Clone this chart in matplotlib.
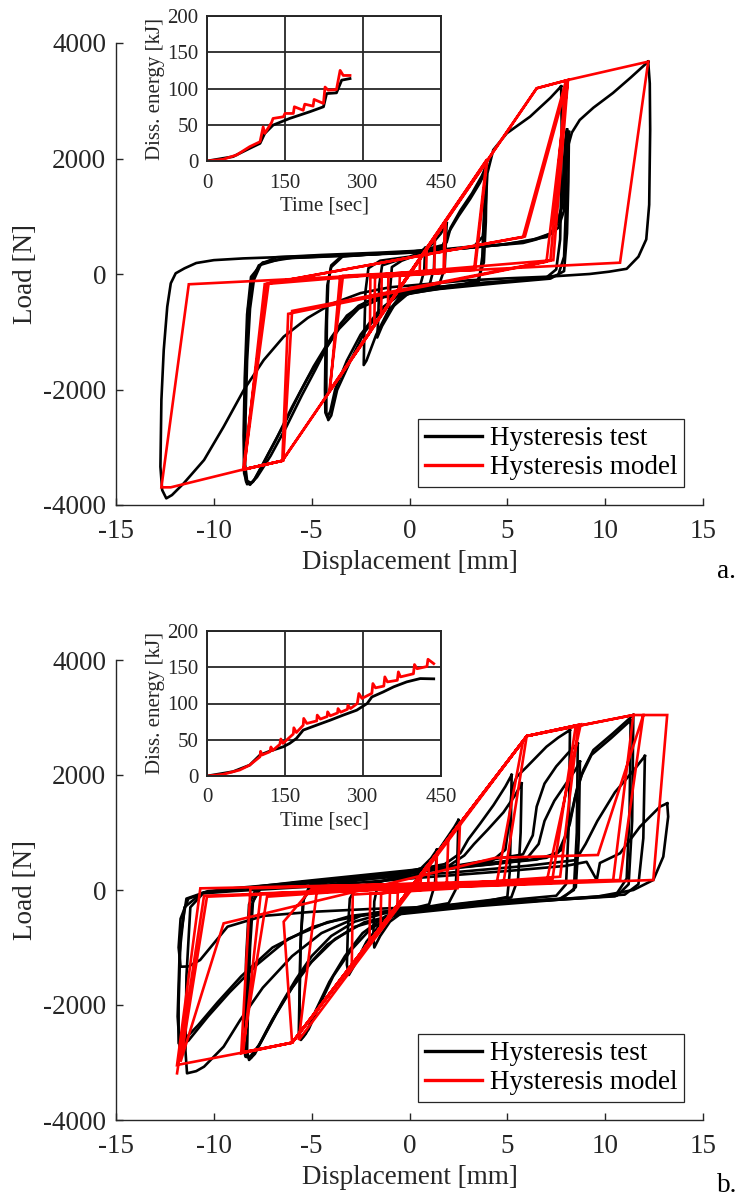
import matplotlib
matplotlib.use("Agg")
import matplotlib.pyplot as plt

plt.rcParams['font.family'] = ['Liberation Serif', 'DejaVu Serif']

# -------------------------
# DATA
# -------------------------

# inset a: dissipated energy vs time
a_time_test = [0, 50, 82, 102, 111, 127, 159, 198, 224, 230, 249, 259, 275]
a_energy_test = [0, 6, 17.4, 24.3, 38, 49.5, 58.7, 68, 74.8, 93, 94, 111.5, 113.7]
a_time_model = [0, 31, 57, 82, 102, 108, 111, 124, 127, 147, 150, 166, 168, 185, 188,
                204, 206, 224, 227, 233, 249, 256, 262, 275]
a_energy_model = [0, 2.3, 8.3, 19.7, 26.6, 47, 38, 52.8, 58.7, 61, 65.6, 65.6, 74.8, 70, 78.4,
                  75.7, 84.9, 79.4, 102, 97.7, 98.6, 125, 118, 118]

# inset b
b_time_test = [0, 50, 82, 102, 121, 147, 159, 172, 185, 211, 237, 262, 288, 308, 317, 339,
               359, 384, 410, 436]
b_energy_test = [0, 6, 15, 29, 34.4, 40.4, 45, 51.8, 63.3, 70.2, 77, 84, 90.8, 100, 109, 116,
                 123, 129.8, 134.4, 134]
b_time_model = [0, 31, 63, 82, 102, 103, 106, 121, 123, 126, 140, 142, 146, 153, 166, 167, 172,
                185, 186, 192, 211, 212, 218, 231, 232, 237, 251, 252, 257, 270, 271, 276,
                289, 292, 298, 317, 319, 324, 340, 342, 347, 366, 368, 372, 397, 399, 404,
                423, 425, 436]
b_energy_model = [0, 2.3, 8.3, 15, 26.6, 34, 29, 33.5, 40, 35, 43.6, 51, 45, 49.5, 58, 66.5, 60,
                  70, 79.4, 72.5, 76, 84, 78.5, 82, 88.5, 83, 87, 93, 88, 92, 97.7, 93,
                  100, 113.8, 107, 114, 127.5, 121.6, 124, 136.7, 129.8, 132, 143.6, 136.7, 141,
                  153.7, 148, 151, 161, 155]

# hysteresis model a (one path, displacement mm / load N)
a_model = [
    (0, 0),
    (0.54, 265), (0.52, 40), (-0.49, -30), (-0.52, -250),
    (0.88, 430), (0.85, 40), (-1.08, -40), (-1.1, -540),
    (1.3, 640), (1.26, 30), (-1.42, -45), (-1.45, -710),
    (1.8, 880), (1.74, 20), (-1.76, -50), (-1.8, -880),
    (1.85, 900), (1.78, 20), (-2.0, -60), (-2.02, -990),
    (3.94, 1974), (3.3, 70), (-3.55, -46), (-4.06, -2010),
    (3.98, 1990), (3.35, 80), (-3.4, -30), (-4.1, -2030),
    (6.5, 3216), (8.1, 3360), (7.0, 213), (-6.2, -690), (-6.5, -3234), (-8.47, -3383),
    (-7.2, -161), (5.8, 640), (8.0, 3350), (7.2, 230), (-6.0, -640), (-6.45, -3230),
    (-8.5, -3390), (-7.3, -170), (5.9, 650), (8.1, 3365), (7.35, 240), (-7.4, -175),
    (-8.45, -3380), (-6.5, -3234), (6.5, 3216), (8.1, 3360), (12.2, 3677), (10.76, 196),
    (-11.28, -178), (-12.68, -3694), (-12.2, -3694), (-8.47, -3383), (-6.5, -3234),
    (-2.0, -1000),
]

# hysteresis test a (closed loops)
a_test_12 = [(12.2, 3677), (11.3, 3400), (10.4, 3135), (9.4, 2880), (8.7, 2667), (8.3, 2450),
             (8.05, 2150), (7.9, 1700), (7.8, 1200), (7.6, 900), (7.2, 700), (6.2, 580),
             (4.5, 500), (2.0, 420), (0.0, 370), (-3.0, 330), (-6.0, 300), (-8.5, 270),
             (-10.0, 240), (-10.9, 190), (-11.5, 98), (-11.95, 12), (-12.2, -161),
             (-12.38, -566), (-12.56, -1316), (-12.68, -2182), (-12.73, -3337), (-12.64, -3741),
             (-12.43, -3885), (-12.14, -3828), (-11.54, -3625), (-10.5, -3221), (-9.5, -2645),
             (-8.47, -2009), (-7.45, -1490), (-6.43, -1086), (-5.2, -760), (-4.0, -520),
             (-2.5, -330), (-1.0, -230), (1.0, -170), (3.0, -110), (5.0, -75), (7.1, -46),
             (9.2, 0), (10.2, 40), (11.1, 90), (11.7, 300), (12.1, 600), (12.25, 1200),
             (12.3, 2500), (12.28, 3300), (12.2, 3677)]
a_test_8a = [(7.75, 3250), (7.2, 3050), (6.16, 2724), (4.97, 2436), (4.28, 2148), (3.98, 1744),
             (3.88, 1100), (3.75, 650), (3.3, 480), (1.5, 420), (-1.5, 370), (-4.5, 330),
             (-6.8, 290), (-7.6, 170), (-7.95, -100), (-8.15, -600), (-8.3, -1500),
             (-8.38, -2500), (-8.4, -3300), (-8.3, -3580), (-8.1, -3620), (-7.8, -3520),
             (-7.1, -3150), (-6.3, -2650), (-5.5, -2100), (-4.8, -1650), (-4.2, -1250),
             (-3.5, -850), (-2.6, -550), (-1.5, -380), (0.5, -260), (3.0, -170), (5.5, -110),
             (7.0, -60), (7.5, 80), (7.7, 600), (7.75, 1500), (7.78, 2500), (7.75, 3250)]
a_test_8b = [(8.05, 2500), (7.95, 2300), (7.88, 1800), (7.8, 1165), (7.5, 850), (7.3, 710),
             (6.5, 600), (5.8, 537), (3.6, 473), (0.7, 380), (-3.0, 320), (-6.5, 270),
             (-7.7, 150), (-8.05, -100), (-8.25, -600), (-8.35, -1500), (-8.42, -2500),
             (-8.45, -3300), (-8.35, -3600), (-8.15, -3650), (-7.9, -3550), (-7.2, -3100),
             (-6.4, -2600), (-5.6, -2050), (-4.9, -1600), (-4.0, -1100), (-3.2, -720),
             (-2.2, -480), (-1.0, -340), (1.5, -230), (4.0, -150), (6.5, -90), (7.6, -20),
             (7.9, 300), (8.0, 1200), (8.05, 2500)]
a_test_8c = [(8.15, 2460), (8.05, 2250), (7.98, 1750), (7.9, 1100), (7.6, 800), (7.0, 640),
             (5.0, 520), (2.0, 420), (-2.0, 340), (-6.0, 280), (-7.5, 200), (-8.1, -50),
             (-8.3, -700), (-8.42, -1800), (-8.48, -2800), (-8.45, -3450), (-8.3, -3640),
             (-8.0, -3600), (-7.5, -3300), (-6.8, -2850), (-6.0, -2300), (-5.2, -1800),
             (-4.4, -1350), (-3.6, -950), (-2.6, -600), (-1.3, -400), (1.5, -260), (4.5, -160),
             (7.2, -80), (7.9, 50), (8.05, 700), (8.12, 1600), (8.15, 2460)]
a_test_4a = [(3.95, 1900), (3.7, 1700), (3.2, 1400), (2.6, 1100), (2.1, 800), (1.9, 550),
             (1.6, 450), (0.0, 380), (-2.0, 340), (-3.5, 300), (-4.0, 150), (-4.15, -100),
             (-4.22, -800), (-4.25, -1800), (-4.25, -2400), (-4.15, -2530), (-4.0, -2450),
             (-3.7, -2009), (-3.0, -1490), (-2.34, -1028), (-1.32, -566), (-0.5, -350),
             (1.0, -250), (2.8, -170), (3.5, -100), (3.8, 200), (3.9, 900), (3.95, 1900)]
a_test_4b = [(3.85, 1760), (3.6, 1580), (3.1, 1300), (2.5, 1000), (2.0, 720), (1.7, 500),
             (0.5, 400), (-1.5, 350), (-3.4, 310), (-4.0, 120), (-4.2, -200), (-4.28, -1000),
             (-4.32, -2000), (-4.3, -2400), (-4.2, -2480), (-4.05, -2380), (-3.8, -2000),
             (-3.2, -1500), (-2.5, -1050), (-1.6, -650), (-0.6, -380), (1.0, -280), (2.9, -190),
             (3.55, -120), (3.72, 300), (3.8, 1000), (3.85, 1760)]
a_test_2 = [(1.9, 880), (1.6, 700), (1.1, 500), (0.7, 380), (0.0, 300), (-1.5, 230),
            (-2.1, 100), (-2.25, -300), (-2.3, -900), (-2.34, -1576), (-2.2, -1500),
            (-1.7, -1050), (-1.1, -650), (-0.5, -400), (0.5, -280), (1.5, -200), (1.8, 100),
            (1.9, 880)]
a_test_1 = [(1.3, 650), (1.0, 500), (0.5, 330), (-0.5, 250), (-1.4, 150), (-1.55, -200),
            (-1.6, -800), (-1.65, -1100), (-1.4, -900), (-0.8, -550), (0.0, -320),
            (1.0, -220), (1.25, 100), (1.3, 650)]
a_test_0 = [(0.8, 450), (0.4, 330), (-0.4, 230), (-0.9, 120), (-1.0, -300), (-1.05, -650),
            (-0.8, -550), (-0.3, -350), (0.5, -250), (0.75, 50), (0.8, 450)]

# hysteresis model b
b_model = [
    (0, 0),
    (0.6, 270), (0.55, 60), (-0.6, -40), (-0.62, -280),
    (1.0, 450), (0.95, 60), (-1.0, -50), (-1.03, -460),
    (1.4, 630), (1.35, 50), (-1.45, -60), (-1.48, -660),
    (1.98, 885), (1.9, 40), (-2.0, -70), (-2.05, -920),
    (2.58, 1165), (2.45, 30), (-2.9, -80), (-2.95, -1320),
    (5.99, 2678), (4.8, 116), (-4.73, 0), (-5.66, -2608),
    (5.8, 2590), (4.45, 110), (-5.0, 20), (-6.43, -551), (-6.0, -2655),
    (6.0, 2678), (8.63, 2870), (7.7, 231), (-7.28, -116), (-8.56, -2829), (-6.0, -2655),
    (6.0, 2678), (8.5, 2860), (7.3, 180), (-8.13, 29), (-8.6, -2840), (-6.0, -2655),
    (6.0, 2678), (8.75, 2880), (7.0, 130), (-7.6, -60), (-8.5, -2820), (-6.0, -2655),
    (6.0, 2678), (11.44, 3043), (10.41, 174), (-10.69, 29), (-11.88, -3043),
    (-8.56, -2829), (-6.0, -2655), (6.0, 2678), (11.44, 3043), (11.95, 3043),
    (10.76, 174), (-10.35, -116), (-11.7, -2985), (-9.5, -580), (4.4, 560),
    (9.63, 609), (11.95, 3043), (13.17, 3043), (12.46, 174), (-10.5, -100),
    (-11.88, -3188),
]

# hysteresis test b
b_test_13 = [(13.17, 1507), (13.22, 1275), (12.97, 579), (12.46, 174), (11.44, 0),
             (9.57, -116), (6.0, -200), (2.0, -280), (-2.0, -330), (-5.0, -380),
             (-7.45, -450), (-9.3, -638), (-10.7, -1217), (-11.3, -1330), (-11.7, -1334),
             (-11.8, -1000), (-11.7, -500), (-11.3, -150), (-10.5, -58), (-9.0, -20),
             (-5.0, 60), (0.0, 200), (5.0, 330), (8.0, 420), (9.05, 490), (9.57, 174),
             (9.73, 470), (10.76, 638), (11.78, 1101), (12.8, 1449), (13.17, 1507)]
b_test_12 = [(12.03, 2330), (11.5, 2100), (10.5, 1700), (9.6, 1200), (9.0, 800), (8.5, 520),
             (6.0, 420), (2.0, 300), (-3.0, 170), (-8.0, 40), (-10.5, -40), (-11.2, -300),
             (-11.4, -1500), (-11.45, -2800), (-11.37, -3188), (-10.9, -3150), (-10.5, -3073),
             (-9.5, -2725), (-8.65, -2260), (-7.5, -1700), (-6.0, -1150), (-4.5, -750),
             (-2.5, -450), (0.0, -330), (4.0, -220), (8.0, -150), (11.0, -80), (11.7, 100),
             (11.95, 900), (12.03, 2330)]
b_test_11a = [(11.44, 3043), (10.4, 2725), (9.4, 2435), (8.88, 2087), (8.54, 1739),
              (8.2, 1160), (7.78, 696), (7.0, 560), (4.0, 440), (0.0, 300), (-4.0, 170),
              (-8.0, 50), (-10.3, -20), (-11.4, -150), (-11.7, -800), (-11.8, -2000),
              (-11.8, -2667), (-11.5, -2600), (-10.8, -2350), (-9.8, -1950), (-8.6, -1500),
              (-7.0, -1000), (-5.0, -650), (-3.0, -450), (0.0, -330), (4.0, -230),
              (8.0, -160), (10.6, -100), (11.2, 100), (11.38, 1200), (11.44, 3043)]
b_test_11b = [(11.3, 2950), (10.3, 2640), (9.3, 2350), (8.8, 2000), (8.45, 1600),
              (8.1, 1050), (7.6, 650), (6.5, 530), (3.0, 410), (-1.0, 280), (-5.0, 150),
              (-9.0, 30), (-10.6, -50), (-11.5, -300), (-11.75, -1100), (-11.85, -2200),
              (-11.75, -2720), (-11.3, -2620), (-10.3, -2200), (-9.2, -1780), (-7.8, -1300),
              (-6.2, -850), (-4.2, -560), (-1.5, -380), (3.0, -250), (7.5, -170),
              (10.5, -110), (11.1, 200), (11.25, 1400), (11.3, 2950)]
b_test_8a = [(8.2, 2782), (7.6, 2650), (7.0, 2492), (6.0, 2144), (5.48, 1970), (5.22, 1739),
             (5.1, 1200), (4.9, 700), (4.2, 500), (2.0, 400), (-2.0, 250), (-6.0, 120),
             (-7.6, 30), (-8.0, -200), (-8.15, -1000), (-8.25, -2000), (-8.3, -2800),
             (-8.2, -2956), (-7.9, -2850), (-7.3, -2450), (-6.5, -1950), (-5.8, -1550),
             (-5.0, -1150), (-4.0, -800), (-2.8, -550), (-1.0, -380), (2.0, -270),
             (5.0, -180), (7.5, -100), (8.0, 100), (8.15, 1200), (8.2, 2782)]
b_test_8b = [(8.71, 2231), (8.5, 2100), (8.0, 1850), (7.4, 1550), (6.9, 1200), (6.6, 800),
             (6.0, 550), (3.0, 420), (-1.0, 280), (-5.0, 150), (-7.7, 50), (-8.1, -300),
             (-8.25, -1300), (-8.35, -2400), (-8.38, -2900), (-8.1, -2920), (-7.6, -2650),
             (-6.8, -2150), (-6.0, -1700), (-5.0, -1250), (-3.8, -850), (-2.3, -560),
             (0.0, -380), (4.0, -250), (7.8, -150), (8.5, 50), (8.65, 900), (8.71, 2231)]
b_test_8c = [(8.6, 2550), (8.1, 2380), (7.5, 2150), (6.9, 1850), (6.5, 1450), (6.3, 950),
             (5.8, 620), (2.5, 430), (-1.5, 290), (-5.5, 150), (-7.8, 60), (-8.2, -250),
             (-8.35, -1200), (-8.42, -2300), (-8.4, -2880), (-8.15, -2900), (-7.7, -2700),
             (-7.0, -2250), (-6.2, -1800), (-5.3, -1350), (-4.2, -950), (-2.8, -640),
             (-0.5, -420), (3.5, -280), (7.6, -170), (8.4, 0), (8.55, 1000), (8.6, 2550)]
b_test_5a = [(5.73, 1855), (5.4, 1650), (4.8, 1350), (4.0, 1050), (3.3, 800), (2.8, 600),
             (2.0, 420), (0.0, 280), (-3.0, 150), (-5.0, 50), (-5.4, -150), (-5.55, -800),
             (-5.62, -1800), (-5.66, -2500), (-5.55, -2608), (-5.3, -2500), (-4.8, -2100),
             (-4.1, -1600), (-3.3, -1150), (-2.4, -750), (-1.2, -450), (1.0, -300),
             (3.5, -200), (5.2, -130), (5.55, 200), (5.68, 1000), (5.73, 1855)]
b_test_5b = [(5.22, 2000), (4.9, 1800), (4.3, 1480), (3.6, 1150), (3.0, 880), (2.6, 640),
             (1.8, 450), (-0.5, 300), (-3.5, 170), (-5.1, 80), (-5.45, -200), (-5.58, -1000),
             (-5.62, -2000), (-5.6, -2520), (-5.45, -2560), (-5.15, -2420), (-4.6, -2000),
             (-3.9, -1500), (-3.0, -1050), (-2.0, -680), (-0.8, -430), (1.5, -290),
             (4.0, -190), (5.0, -120), (5.12, 300), (5.18, 1100), (5.22, 2000)]
b_test_2 = [(2.5, 1217), (2.3, 1100), (1.8, 850), (1.3, 600), (1.0, 420), (0.3, 250),
            (-1.5, 150), (-2.7, 60), (-3.05, -150), (-3.15, -700), (-3.2, -1300),
            (-3.1, -1478), (-2.8, -1300), (-2.2, -900), (-1.5, -600), (-0.6, -400),
            (0.8, -300), (2.0, -230), (2.35, 0), (2.45, 600), (2.5, 1217)]
b_test_1 = [(1.4, 700), (1.1, 550), (0.6, 380), (-0.5, 250), (-1.6, 130), (-1.8, -200),
            (-1.85, -800), (-1.8, -1000), (-1.5, -800), (-1.0, -550), (-0.2, -350),
            (1.0, -250), (1.3, 100), (1.4, 700)]

a_test = [a_test_12, a_test_8a, a_test_8b, a_test_8c, a_test_4a, a_test_4b,
          a_test_2, a_test_1, a_test_0]
b_test = [b_test_13, b_test_12, b_test_11a, b_test_11b, b_test_8a, b_test_8b, b_test_8c,
          b_test_5a, b_test_5b, b_test_2, b_test_1]

x_ticks = [-15, -10, -5, 0, 5, 10, 15]
y_ticks = [-4000, -2000, 0, 2000, 4000]
t_ticks = [0, 150, 300, 450]
e_ticks = [0, 50, 100, 150, 200]

# -------------------------
# STYLE
# -------------------------

W, H = 740, 1197
FS = 19.5
FS_IN = 15
DARK = '#262626'
RED = '#ff0000'
LW = 1.9


def px_rect(left, top, right, bottom):
    return [left / W, 1 - bottom / H, (right - left) / W, (bottom - top) / H]


def draw_main(ax, test_loops, model, tag_y, tag):
    for loop in test_loops:
        xs = [p[0] for p in loop]
        ys = [p[1] for p in loop]
        ax.plot(xs, ys, color='k', lw=LW, solid_joinstyle='round')
    xs = [p[0] for p in model]
    ys = [p[1] for p in model]
    ax.plot(xs, ys, color=RED, lw=LW, solid_joinstyle='miter')

    ax.set_xlim(-15, 15)
    ax.set_ylim(-4000, 4000)
    ax.set_xticks(x_ticks)
    ax.set_yticks(y_ticks)
    ax.set_xticklabels([str(v) for v in x_ticks])
    ax.set_yticklabels([str(v) for v in y_ticks])
    for s in ['top', 'right']:
        ax.spines[s].set_visible(False)
    for s in ['left', 'bottom']:
        ax.spines[s].set_color(DARK)
        ax.spines[s].set_linewidth(1.0)
    ax.tick_params(direction='in', length=5, width=1.0, colors=DARK,
                   labelsize=FS, labelcolor=DARK)
    ax.tick_params(axis='x', pad=10)
    ax.tick_params(axis='y', pad=7)
    ax.set_xlabel('Displacement [mm]', fontsize=FS, color=DARK)
    ax.set_ylabel('Load [N]', fontsize=FS, color=DARK)
    ax.xaxis.set_label_coords(0.5, -0.097)
    ax.yaxis.set_label_coords(-0.133, 0.5)

    h1, = ax.plot([], [], color='k', lw=2.4)
    h2, = ax.plot([], [], color=RED, lw=2.4)
    leg = ax.legend([h1, h2], ['Hysteresis test', 'Hysteresis model'],
                    loc='lower right', bbox_to_anchor=(0.968, 0.039),
                    borderaxespad=0, fontsize=FS, fancybox=False, framealpha=1,
                    borderpad=0.25, labelspacing=0.15, handlelength=2.1,
                    handletextpad=0.3)
    leg.get_frame().set_edgecolor(DARK)
    leg.get_frame().set_linewidth(0.9)

    fig.text(0.982, tag_y, tag, fontsize=FS, color='k', ha='center', va='center')


def draw_inset(ax, t_test, e_test, t_model, e_model):
    ax.set_facecolor('white')
    ax.plot(t_test, e_test, color='k', lw=2.0)
    ax.plot(t_model, e_model, color=RED, lw=2.0)
    ax.set_xlim(0, 450)
    ax.set_ylim(0, 200)
    ax.set_xticks(t_ticks)
    ax.set_yticks(e_ticks)
    ax.grid(True, color=DARK, lw=1.3)
    ax.set_axisbelow(True)
    for s in ax.spines.values():
        s.set_color(DARK)
        s.set_linewidth(1.4)
    ax.tick_params(length=0, labelsize=FS_IN, colors=DARK)
    ax.tick_params(axis='x', pad=9)
    ax.tick_params(axis='y', pad=6)
    ax.set_xlabel('Time [sec]', fontsize=FS_IN, color=DARK, labelpad=3)
    ax.set_ylabel('Diss. energy [kJ]', fontsize=FS_IN, color=DARK, labelpad=2)


# -------------------------
# FIGURE
# -------------------------

fig = plt.figure(figsize=(W / 100, H / 100), dpi=100)

ax_a = fig.add_axes(px_rect(116, 43, 703, 505))
draw_main(ax_a, a_test, a_model, 1 - 572 / H, 'a.')
in_a = fig.add_axes(px_rect(207, 16, 441, 161))
draw_inset(in_a, a_time_test, a_energy_test, a_time_model, a_energy_model)

ax_b = fig.add_axes(px_rect(116, 660, 703, 1120))
draw_main(ax_b, b_test, b_model, 1 - 1186 / H, 'b.')
in_b = fig.add_axes(px_rect(207, 631, 441, 776))
draw_inset(in_b, b_time_test, b_energy_test, b_time_model, b_energy_model)

fig.savefig('out.png', dpi=100)
print("saved out.png")
